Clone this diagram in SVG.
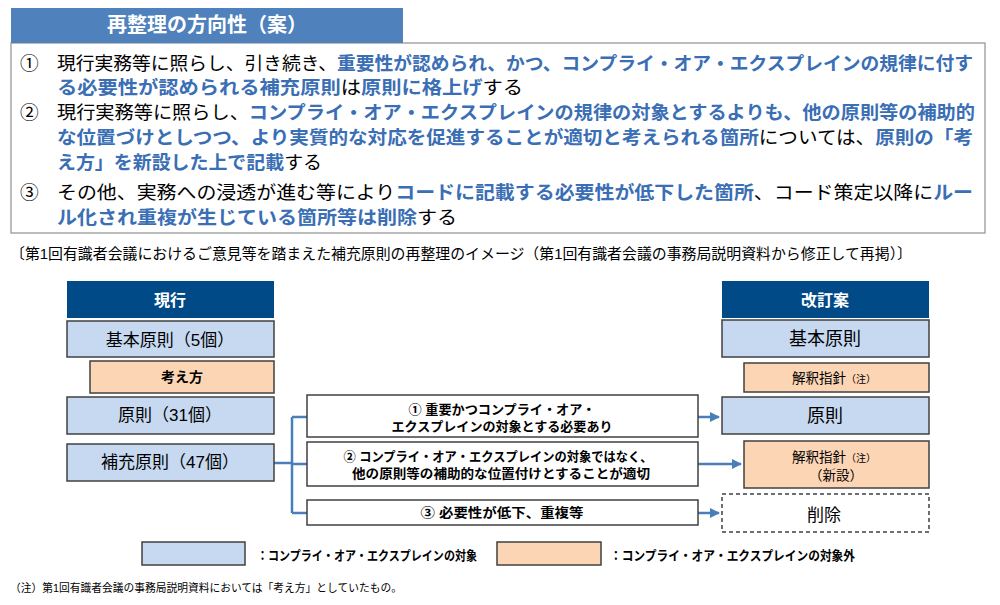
<svg xmlns="http://www.w3.org/2000/svg" width="1000" height="605" viewBox="0 0 1000 605">
<defs>
<style>
text{font-family:"Liberation Sans","Noto Sans CJK JP",sans-serif;fill:#000}
.t{font-size:18.7px}
.b{fill:#3a6eb5;font-weight:bold}
.hd{fill:#fff;font-weight:bold;text-anchor:middle}
.c{text-anchor:middle}
.blue{fill:#c6d9f1;stroke:#404040;stroke-width:1.5}
.peach{fill:#fcd5b5;stroke:#404040;stroke-width:1.5}
.navy{fill:#004a88}
.mid{fill:#fff;stroke:#404040;stroke-width:1.5}
.conn{fill:none;stroke:#4a7ebb;stroke-width:2.5}
.mt{font-size:13px;font-weight:bold;text-anchor:middle}
</style>
<marker id="ah" viewBox="0 0 10 10" refX="9" refY="5" markerWidth="4" markerHeight="4" orient="auto" markerUnits="strokeWidth">
<path d="M0,0 L10,5 L0,10 z" fill="#4a7ebb"/>
</marker>
</defs>
<rect width="1000" height="605" fill="#fff"/>

<g id="policy">
<rect x="11" y="43" width="974" height="190" fill="#fff" stroke="#a6a6a6" stroke-width="1.5"/>
<rect x="11" y="8" width="392" height="35" fill="#4f81bd"/>
<text x="207" y="32" class="hd" font-size="20">再整理の方向性（案）</text>
<text x="20" y="70" class="t">①</text>
<text x="57" y="70" class="t" textLength="916" lengthAdjust="spacingAndGlyphs">現行実務等に照らし、引き続き、<tspan class="b">重要性が認められ、かつ、コンプライ・オア・エクスプレインの規律に付す</tspan></text>
<text x="57" y="94" class="t" textLength="466" lengthAdjust="spacingAndGlyphs"><tspan class="b">る必要性が認められる補充原則</tspan>は<tspan class="b">原則に格上げ</tspan>する</text>
<text x="20" y="119" class="t">②</text>
<text x="57" y="119" class="t" textLength="918" lengthAdjust="spacingAndGlyphs">現行実務等に照らし、<tspan class="b">コンプライ・オア・エクスプレインの規律の対象とするよりも、他の原則等の補助的</tspan></text>
<text x="57" y="144" class="t" textLength="916" lengthAdjust="spacingAndGlyphs"><tspan class="b">な位置づけとしつつ、より実質的な対応を促進することが適切と考えられる箇所</tspan>については、<tspan class="b">原則の「考</tspan></text>
<text x="57" y="169" class="t" textLength="265" lengthAdjust="spacingAndGlyphs"><tspan class="b">え方」を新設した上で記載</tspan>する</text>
<text x="20" y="199" class="t">③</text>
<text x="57" y="199" class="t" textLength="916" lengthAdjust="spacingAndGlyphs">その他、実務への浸透が進む等により<tspan class="b">コードに記載する必要性が低下した箇所</tspan>、コード策定以降に<tspan class="b">ルー</tspan></text>
<text x="57" y="224" class="t" textLength="400" lengthAdjust="spacingAndGlyphs"><tspan class="b">ル化され重複が生じている箇所等は削除</tspan>する</text>
</g>

<text id="caption" x="10" y="259" font-size="15" textLength="902" lengthAdjust="spacingAndGlyphs">〔第1回有識者会議におけるご意見等を踏まえた補充原則の再整理のイメージ（第1回有識者会議の事務局説明資料から修正して再掲）〕</text>

<g id="connectors">
<path class="conn" d="M274,463 H292"/>
<path class="conn" d="M292,417 V513"/>
<path class="conn" d="M292,417 H307 M292,464 H307 M292,513 H307"/>
<path class="conn" d="M698,417 H719" marker-end="url(#ah)"/>
<path class="conn" d="M698,464 H741" marker-end="url(#ah)"/>
<path class="conn" d="M698,513 H719" marker-end="url(#ah)"/>
</g>

<g id="current-header">
<rect class="navy" x="67" y="281" width="207" height="37"/>
<text x="170" y="306" class="hd" font-size="16">現行</text>
</g>
<g id="current-basic">
<rect class="blue" x="67" y="321" width="207" height="36"/>
<text x="170" y="346" class="c" font-size="17">基本原則（5個）</text>
</g>
<g id="current-kangaekata">
<rect class="peach" x="90" y="361" width="184" height="32"/>
<text x="182" y="382" class="c" font-size="14" font-weight="bold">考え方</text>
</g>
<g id="current-principle">
<rect class="blue" x="67" y="397" width="207" height="37"/>
<text x="170" y="421" class="c" font-size="17">原則（31個）</text>
</g>
<g id="current-supplementary">
<rect class="blue" x="67" y="444" width="207" height="37"/>
<text x="170" y="468" class="c" font-size="17">補充原則（47個）</text>
</g>

<g id="branch1">
<rect class="mid" x="307" y="395" width="391" height="42"/>
<text x="502" y="414" class="mt" textLength="187" lengthAdjust="spacingAndGlyphs">①  重要かつコンプライ・オア・</text>
<text x="502" y="431" class="mt" textLength="221" lengthAdjust="spacingAndGlyphs">エクスプレインの対象とする必要あり</text>
</g>
<g id="branch2">
<rect class="mid" x="307" y="442" width="391" height="44"/>
<text x="498" y="461" class="mt" textLength="309" lengthAdjust="spacingAndGlyphs">②  コンプライ・オア・エクスプレインの対象ではなく、</text>
<text x="501" y="478" class="mt" textLength="298" lengthAdjust="spacingAndGlyphs">他の原則等の補助的な位置付けとすることが適切</text>
</g>
<g id="branch3">
<rect class="mid" x="307" y="500" width="391" height="25"/>
<text x="502" y="517" class="mt" textLength="163" lengthAdjust="spacingAndGlyphs">③  必要性が低下、重複等</text>
</g>

<g id="revised-header">
<rect class="navy" x="722" y="281" width="207" height="37"/>
<text x="825" y="306" class="hd" font-size="16">改訂案</text>
</g>
<g id="revised-basic">
<rect class="blue" x="722" y="320" width="207" height="37"/>
<text x="825" y="345" class="c" font-size="18">基本原則</text>
</g>
<g id="revised-guideline">
<rect class="peach" x="744" y="363" width="185" height="29"/>
<text x="834" y="383" class="c" font-size="13.5">解釈指針<tspan font-size="10">（注）</tspan></text>
</g>
<g id="revised-principle">
<rect class="blue" x="722" y="397" width="207" height="37"/>
<text x="825" y="422" class="c" font-size="18">原則</text>
</g>
<g id="revised-guideline-new">
<rect class="peach" x="744" y="441" width="185" height="47"/>
<text x="834" y="462" class="c" font-size="13.5">解釈指針<tspan font-size="10">（注）</tspan></text>
<text x="836" y="480" class="c" font-size="13.5">（新設）</text>
</g>
<g id="revised-delete">
<rect x="722" y="494" width="207" height="38" fill="#fff" stroke="#404040" stroke-width="1.5" stroke-dasharray="4,3"/>
<text x="824" y="521" class="c" font-size="17">削除</text>
</g>

<g id="legend">
<rect class="blue" x="142" y="542" width="103" height="23"/>
<text x="257" y="560" font-size="13" font-weight="bold" textLength="220" lengthAdjust="spacingAndGlyphs">：コンプライ・オア・エクスプレインの対象</text>
<rect class="peach" x="497" y="542" width="104" height="23"/>
<text x="610" y="560" font-size="13" font-weight="bold" textLength="245" lengthAdjust="spacingAndGlyphs">：コンプライ・オア・エクスプレインの対象外</text>
</g>

<text id="footnote" x="10" y="592" font-size="11" textLength="392" lengthAdjust="spacingAndGlyphs">（注）第1回有識者会議の事務局説明資料においては「考え方」としていたもの。</text>
</svg>
